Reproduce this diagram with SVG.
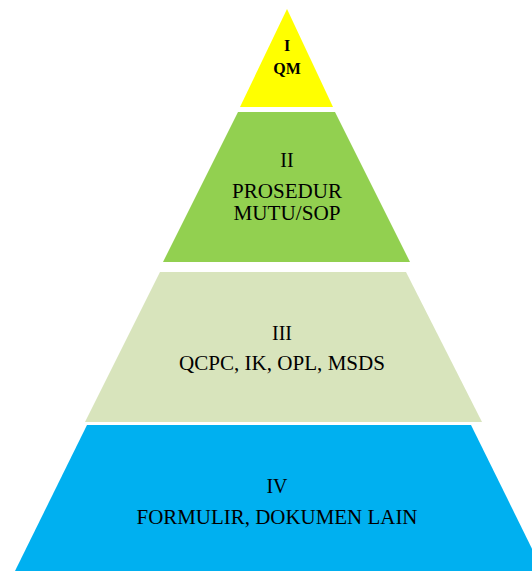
<svg xmlns="http://www.w3.org/2000/svg" width="532" height="571" viewBox="0 0 532 571">
<style>
text{fill:#000;text-anchor:middle}
.t{font-size:20px}
.b{font-size:16px;font-weight:bold}
</style>
<rect width="532" height="571" fill="#fff"/>
<g font-family="Liberation Serif, Times New Roman, DejaVu Serif, serif">
<g id="level1">
<polygon points="287,9 333,107 240,107" fill="#FFFF00"/>
<text class="b" x="287" y="51">I</text>
<text class="b" x="287" y="74">QM</text>
</g>
<g id="level2">
<polygon points="238,112 335,112 410,262 163,262" fill="#92D050"/>
<text class="t" x="287" y="167">II</text>
<text class="t" x="287" y="198" textLength="110" lengthAdjust="spacingAndGlyphs">PROSEDUR</text>
<text class="t" x="287" y="220" textLength="107" lengthAdjust="spacingAndGlyphs">MUTU/SOP</text>
</g>
<g id="level3">
<polygon points="160,272 406,272 482,422 85,422" fill="#D8E4BC"/>
<text class="t" x="282" y="340">III</text>
<text class="t" x="282" y="370" textLength="206" lengthAdjust="spacingAndGlyphs">QCPC, IK, OPL, MSDS</text>
</g>
<g id="level4">
<polygon points="87,425 471,425 543,571 15,571" fill="#00B0F0"/>
<text class="t" x="277" y="493">IV</text>
<text class="t" x="277" y="524" textLength="281" lengthAdjust="spacingAndGlyphs">FORMULIR, DOKUMEN LAIN</text>
</g>
<g id="connectors"></g>
</g>
</svg>
